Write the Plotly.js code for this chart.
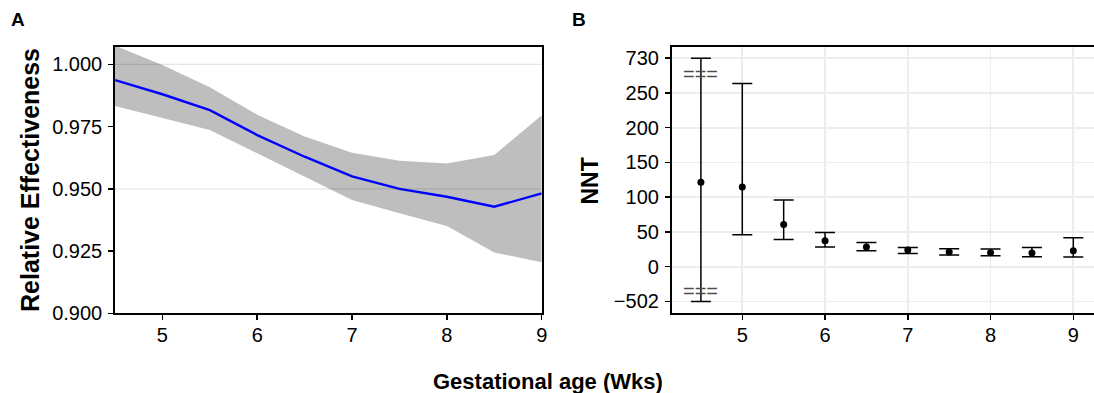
<!DOCTYPE html>
<html>
<head>
<meta charset="utf-8">
<script src="https://cdn.plot.ly/plotly-3.0.1.min.js"></script>
<style>
  html, body { margin: 0; padding: 0; background: #ffffff; }
  #chart { width: 1094px; height: 393px; }
</style>
</head>
<body>
<div id="chart"></div>
<script>
// ---------- Data ----------
const weeks = [4.5, 5, 5.5, 6, 6.5, 7, 7.5, 8, 8.5, 9];

// Panel A: relative effectiveness with confidence band
const relEff      = [0.9937, 0.9880, 0.9816, 0.9716, 0.9629, 0.9550, 0.9500, 0.9468, 0.9428, 0.9482];
const relEffUpper = [1.0075, 0.9997, 0.9908, 0.9798, 0.9710, 0.9645, 0.9613, 0.9602, 0.9636, 0.9796];
const relEffLower = [0.9833, 0.9783, 0.9736, 0.9643, 0.9549, 0.9455, 0.9402, 0.9351, 0.9244, 0.9205];
const relEffTicks = [0.900, 0.925, 0.950, 0.975, 1.000];
const relEffGrid  = [0.950, 1.000];

// Panel B: NNT with confidence intervals (broken axis at the extremes)
const nnt      = [121.4, 114.7, 60.9, 37.4, 28.3, 24.0, 21.1, 20.2, 19.7, 23.0];
const nntUpper = [730, 263.4, 96.0, 49.4, 35.0, 27.8, 25.9, 25.4, 27.8, 41.7];
const nntLower = [-502, 46.1, 39.3, 28.3, 23.0, 19.2, 16.8, 15.8, 14.4, 13.9];
const nntTickVals = [-50, 0, 50, 100, 150, 200, 250, 300];
const nntTickText = ["\u2212502", "0", "50", "100", "150", "200", "250", "730"];
const nntBreakHigh = 730, nntBreakHighPos = 300;
const nntBreakLow = -502, nntBreakLowPos = -50;
const nntBreakMarks = [277, -35];

const weekTicks = [5, 6, 7, 8, 9];

// ---------- Helpers ----------
function breakMap(v) {
  if (v >= nntBreakHigh) return nntBreakHighPos;
  if (v <= nntBreakLow) return nntBreakLowPos;
  return v;
}
const W = 1094, H = 393;
const FONT = "Liberation Sans, Arial, Helvetica, sans-serif";

const traces = [
  { x: weeks, y: relEffLower, mode: "lines", line: { width: 0, color: "#BEBEBE" },
    xaxis: "x", yaxis: "y", hoverinfo: "skip" },
  { x: weeks, y: relEffUpper, mode: "lines", line: { width: 0, color: "#BEBEBE" },
    fill: "tonexty", fillcolor: "#BEBEBE", xaxis: "x", yaxis: "y", hoverinfo: "skip" },
  { x: weeks, y: relEff, mode: "lines", line: { width: 2.4, color: "#0000FF" },
    xaxis: "x", yaxis: "y" },
  { x: weeks, y: nnt, mode: "markers",
    marker: { size: 7, color: "#000000" },
    error_y: {
      type: "data", symmetric: false,
      array: nntUpper.map((u, i) => breakMap(u) - nnt[i]),
      arrayminus: nntLower.map((l, i) => nnt[i] - breakMap(l)),
      width: 10, thickness: 1.5, color: "#000000"
    },
    xaxis: "x2", yaxis: "y2" }
];

const axisCommon = {
  ticks: "outside", ticklen: 5, tickwidth: 1.5, tickcolor: "#000000",
  showline: true, linecolor: "#000000", linewidth: 1.8,
  zeroline: false, tickfont: { family: FONT, size: 20, color: "#000000" },
  fixedrange: true
};

const yDomain = [1 - 313.3 / H, 1 - 46.7 / H];

const layout = {
  width: W, height: H,
  margin: { l: 0, r: 0, t: 0, b: 0 },
  paper_bgcolor: "#ffffff", plot_bgcolor: "#ffffff",
  showlegend: false,
  font: { family: FONT, color: "#000000" },
  xaxis: Object.assign({}, axisCommon, {
    domain: [115 / W, 541.7 / W], range: [4.5, 9], tickvals: weekTicks,
    showgrid: false, mirror: true, anchor: "y", ticklabelstandoff: -2
  }),
  yaxis: Object.assign({}, axisCommon, {
    domain: yDomain, range: [0.9, 1.0071], tickvals: relEffTicks, tickformat: ".3f",
    showgrid: false, mirror: true, anchor: "x", ticklabelstandoff: 2
  }),
  xaxis2: Object.assign({}, axisCommon, {
    domain: [671.7 / W, 1], range: [4.147, 9.25], tickvals: weekTicks,
    showgrid: true, gridcolor: "#EDEDED", gridwidth: 1.8, mirror: true, anchor: "y2",
    ticklabelstandoff: -2
  }),
  yaxis2: Object.assign({}, axisCommon, {
    domain: yDomain, range: [-67, 316.5], tickvals: nntTickVals, ticktext: nntTickText,
    showgrid: true, gridcolor: "#EDEDED", gridwidth: 1.8, mirror: false, anchor: "x2",
    ticklabelstandoff: 2
  }),
  shapes: relEffGrid.map(v => ({
    type: "line", xref: "x domain", yref: "y", x0: 0, x1: 1, y0: v, y1: v,
    layer: "above", line: { color: "rgba(0,0,0,0.1)", width: 1.3 }
  })),
  annotations: [
    { text: "<b>A</b>", xref: "paper", yref: "paper", x: 17.5 / W, y: 1 - 19.5 / H,
      xanchor: "center", yanchor: "middle", showarrow: false, font: { size: 19, family: FONT } },
    { text: "<b>B</b>", xref: "paper", yref: "paper", x: 579 / W, y: 1 - 19 / H,
      xanchor: "center", yanchor: "middle", showarrow: false, font: { size: 19, family: FONT } },
    { text: "<b>Relative Effectiveness</b>", xref: "paper", yref: "paper", x: 30 / W, y: 1 - 180 / H,
      xanchor: "center", yanchor: "middle", textangle: -90, showarrow: false,
      font: { size: 25, family: FONT } },
    { text: "<b>NNT</b>", xref: "paper", yref: "paper", x: 589 / W, y: 1 - 181.5 / H,
      xanchor: "center", yanchor: "middle", textangle: -90, showarrow: false,
      font: { size: 23, family: FONT } },
    { text: "<b>Gestational age (Wks)</b>", xref: "paper", yref: "paper", x: 548 / W, y: 1 - 381 / H,
      xanchor: "center", yanchor: "middle", showarrow: false,
      font: { size: 22, family: FONT } }
  ].concat(nntBreakMarks.map(v => ({
    text: "===", xref: "x2", yref: "y2", x: weeks[0], y: v,
    xanchor: "center", yanchor: "middle", showarrow: false,
    font: { size: 20, family: FONT, color: "#4d4d4d" }
  })))
};

Plotly.newPlot("chart", traces, layout, { staticPlot: true, displayModeBar: false });
</script>
</body>
</html>
